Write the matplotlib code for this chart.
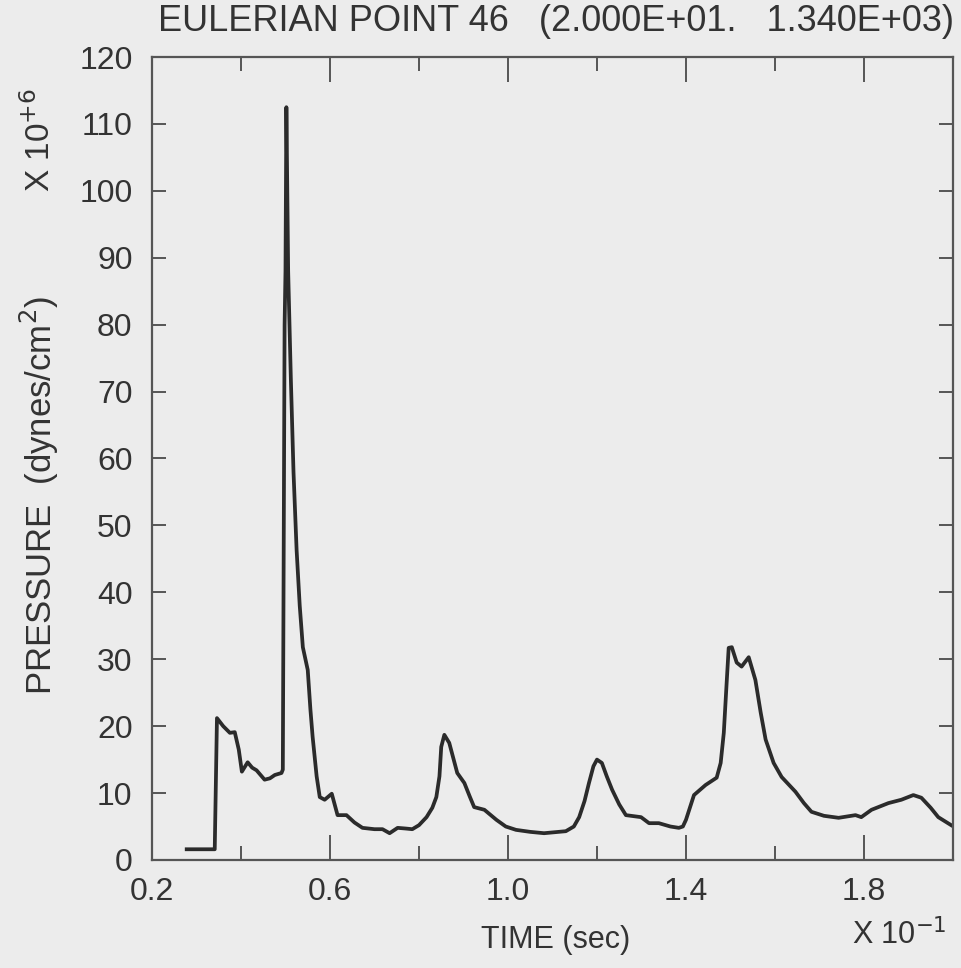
import numpy as np
import matplotlib.pyplot as plt
from matplotlib.ticker import MultipleLocator

plt.rcParams['font.family'] = ['Liberation Sans Narrow', 'Liberation Sans', 'DejaVu Sans']

# time (x 10^-1 sec) and pressure (x 10^6 dynes/cm^2)
time = [0.278, 0.341, 0.346, 0.360, 0.375, 0.386, 0.395, 0.402, 0.415, 0.425,
        0.435, 0.453, 0.465, 0.476, 0.491, 0.494, 0.498, 0.500, 0.502, 0.506,
        0.512, 0.518, 0.525, 0.532, 0.539, 0.550, 0.556, 0.561, 0.570, 0.577,
        0.588, 0.604, 0.617, 0.637, 0.655, 0.673, 0.700, 0.718, 0.734, 0.752,
        0.770, 0.785, 0.800, 0.817, 0.830, 0.839, 0.846, 0.850, 0.857, 0.868,
        0.878, 0.886, 0.902, 0.914, 0.924, 0.947, 0.974, 0.995, 1.018, 1.050,
        1.081, 1.130, 1.148, 1.160, 1.172, 1.182, 1.192, 1.200, 1.211, 1.222,
        1.234, 1.250, 1.265, 1.299, 1.317, 1.339, 1.365, 1.384, 1.393, 1.400,
        1.418, 1.444, 1.469, 1.478, 1.485, 1.491, 1.496, 1.503, 1.514, 1.525,
        1.541, 1.556, 1.568, 1.579, 1.597, 1.615, 1.646, 1.665, 1.682, 1.710,
        1.743, 1.781, 1.794, 1.817, 1.855, 1.884, 1.911, 1.929, 1.950, 1.967,
        1.996]
pressure = [1.6, 1.6, 21.2, 20.0, 19.0, 19.1, 16.5, 13.2, 14.6, 13.8,
            13.4, 12.0, 12.2, 12.7, 13.0, 13.5, 80.0, 88.0, 112.5, 88.0,
            72.0, 58.0, 46.3, 38.0, 31.8, 28.4, 22.5, 18.4, 12.5, 9.4,
            9.0, 9.9, 6.7, 6.7, 5.6, 4.8, 4.6, 4.6, 4.0, 4.8,
            4.7, 4.6, 5.2, 6.4, 7.8, 9.4, 12.5, 16.9, 18.7, 17.5,
            15.0, 13.0, 11.5, 9.5, 7.9, 7.5, 6.0, 5.0, 4.5, 4.2,
            4.0, 4.3, 5.0, 6.4, 8.8, 11.5, 14.0, 15.0, 14.5, 12.5,
            10.5, 8.3, 6.7, 6.4, 5.5, 5.5, 5.0, 4.8, 5.0, 6.0,
            9.7, 11.2, 12.3, 14.5, 19.0, 26.0, 31.7, 31.8, 29.5, 28.9,
            30.3, 26.9, 22.0, 18.0, 14.5, 12.4, 10.2, 8.5, 7.2, 6.6,
            6.3, 6.7, 6.4, 7.5, 8.5, 9.0, 9.7, 9.3, 7.8, 6.4,
            5.2]

x_labels = ['0.2', '0.6', '1.0', '1.4', '1.8']
y_ticks = list(range(0, 121, 10))

bg = '#ececec'
ink = '#2b2b2b'
txt = '#333333'

fig = plt.figure(figsize=(9.62, 9.68), dpi=100, facecolor=bg)
ax = fig.add_axes([0.158, 0.1116, 0.8326, 0.8295])
ax.set_facecolor(bg)

ax.plot(time, pressure, color=ink, linewidth=2.7, solid_joinstyle='round')

ax.set_xlim(0.2, 2.0)
ax.set_ylim(0, 120)
ax.set_xticks([float(v) for v in x_labels])
ax.set_xticklabels(x_labels)
ax.xaxis.set_minor_locator(MultipleLocator(0.2))
ax.set_yticks(y_ticks)

for s in ax.spines.values():
    s.set_color('#555555')
    s.set_linewidth(1.6)

ax.tick_params(axis='both', which='both', direction='in', top=True, right=True,
               color='#555555', width=1.4, labelsize=23, labelcolor=txt)
ax.tick_params(axis='x', which='major', length=18, pad=12)
ax.tick_params(axis='x', which='minor', length=10)
ax.tick_params(axis='y', which='major', length=10, pad=14)

fig.text(0.578, 0.978, 'EULERIAN POINT 46   (2.000E+01.   1.340E+03)',
         ha='center', va='center', fontsize=26, color=txt)
fig.text(0.041, 0.488, 'PRESSURE  (dynes/cm$^2$)', rotation=90,
         ha='center', va='center', fontsize=25, color=txt)
fig.text(0.041, 0.855, 'X 10$^{+6}$', rotation=90,
         ha='center', va='center', fontsize=24, color=txt)
fig.text(0.578, 0.029, 'TIME (sec)', ha='center', va='center',
         fontsize=22, color=txt)
fig.text(0.935, 0.034, 'X 10$^{-1}$', ha='center', va='center',
         fontsize=22, color=txt)

fig.savefig('out.png', dpi=100, facecolor=bg)
